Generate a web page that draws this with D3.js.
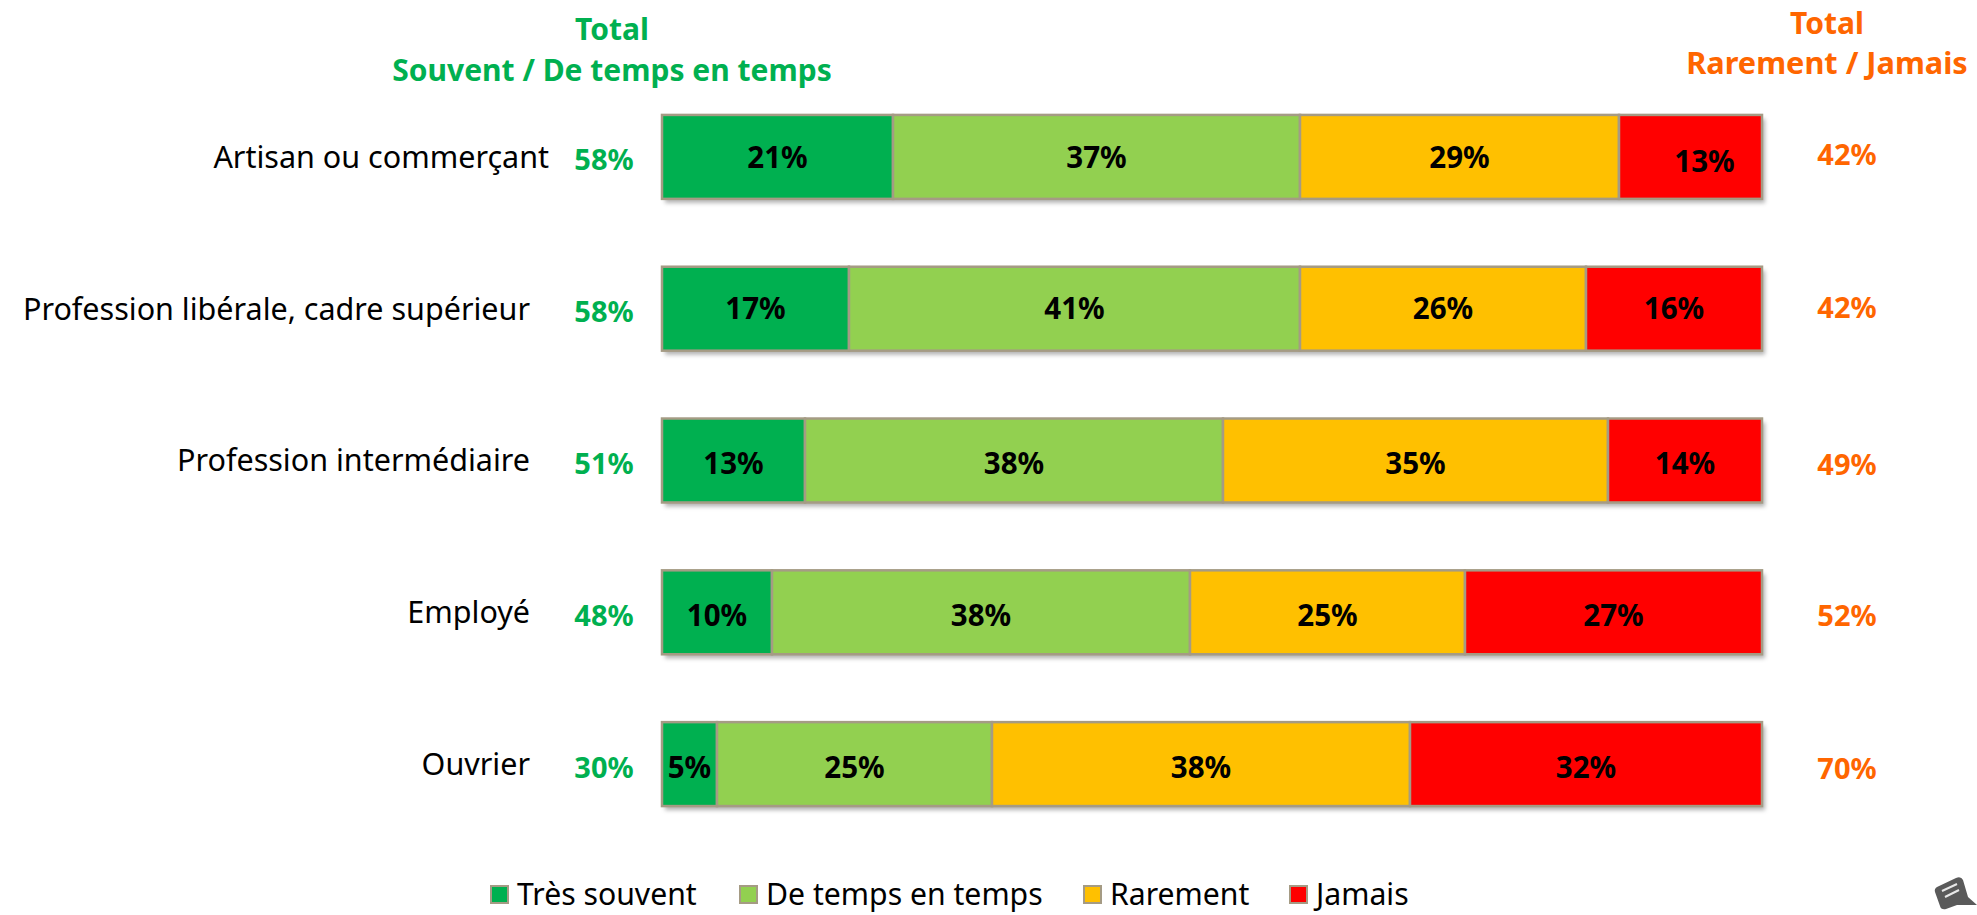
<!DOCTYPE html>
<html>
<head>
<meta charset="utf-8">
<script src="https://cdn.jsdelivr.net/npm/d3@7"></script>
<style>
  html, body { margin: 0; padding: 0; background: #fff; overflow: hidden; }
  text { font-family: "Noto Sans", "Open Sans", sans-serif; }
</style>
</head>
<body>
<svg id="chart"></svg>
<script>
const categories = ["Artisan ou commerçant", "Profession libérale, cadre supérieur", "Profession intermédiaire", "Employé", "Ouvrier"];
const seriesNames = ["Très souvent", "De temps en temps", "Rarement", "Jamais"];
const tresSouvent = [21, 17, 13, 10, 5];
const deTempsEnTemps = [37, 41, 38, 38, 25];
const rarement = [29, 26, 35, 25, 38];
const jamais = [13, 16, 14, 27, 32];
const totalSouvent = [58, 58, 51, 48, 30];
const totalRarement = [42, 42, 49, 52, 70];
const colors = ["#00b050", "#92d050", "#ffc000", "#ff0000"];

const width = 1977;
const height = 915;
const green = "#00b050";
const orange = "#ff6600";
const edge = "#a59b84";

const svg = d3.select("#chart").attr("width", width).attr("height", height);

const defs = svg.append("defs");
const shadow = defs.append("filter").attr("id", "shadow")
  .attr("x", "-2%").attr("y", "-10%").attr("width", "104%").attr("height", "130%");
shadow.append("feDropShadow")
  .attr("dx", 3).attr("dy", 4).attr("stdDeviation", 2)
  .attr("flood-color", "#000").attr("flood-opacity", 0.3);

const x = d3.scaleLinear().domain([0, 100]).range([662, 1762]);
const y = d3.scaleBand().domain(categories).range([81, 840]).paddingInner(0.447).paddingOuter(0.2235);

// the labels in the original slide are not quite lined up, so nudge them per row
const valueShift = [0, 0, 3, 3, 3];
const rightShift = [-2, -1, 4, 3, 4];

const rows = categories.map((c, i) => ({
  i,
  cat: c,
  vals: [tresSouvent[i], deTempsEnTemps[i], rarement[i], jamais[i]],
  left: totalSouvent[i],
  right: totalRarement[i]
}));

// bars
const row = svg.append("g").selectAll("g")
  .data(rows)
  .enter()
  .append("g")
  .attr("transform", d => `translate(0,${y(d.cat)})`);

row.append("rect")
  .attr("x", x(0))
  .attr("width", x(100) - x(0))
  .attr("height", y.bandwidth())
  .attr("fill", "#fff")
  .attr("filter", "url(#shadow)");

const segs = d => {
  let sum = 0;
  return d.vals.map((v, j) => {
    const s = { v, j, row: d.i, x0: sum, x1: sum + v };
    sum += v;
    return s;
  });
};

row.selectAll("rect.seg")
  .data(segs)
  .enter()
  .append("rect")
  .attr("class", "seg")
  .attr("x", d => x(d.x0))
  .attr("y", 0)
  .attr("width", d => x(d.x1) - x(d.x0))
  .attr("height", y.bandwidth())
  .attr("fill", d => colors[d.j])
  .attr("stroke", edge)
  .attr("stroke-width", 2.5);

// the 13% in the first row sits off centre
const isOffset = d => d.row === 0 && d.j === 3;

row.selectAll("text.val")
  .data(segs)
  .enter()
  .append("text")
  .attr("class", "val")
  .attr("x", d => (x(d.x0) + x(d.x1)) / 2 + (isOffset(d) ? 14 : 0))
  .attr("y", d => y.bandwidth() / 2 + valueShift[d.row] + (isOffset(d) ? 4 : 0))
  .attr("dy", "0.36em")
  .attr("text-anchor", "middle")
  .attr("font-size", 29.5)
  .attr("font-weight", "bold")
  .attr("fill", "#000")
  .text(d => d.v + "%");

// category labels
row.append("text")
  .attr("x", d => d.i === 0 ? 549 : 530)
  .attr("y", y.bandwidth() / 2)
  .attr("dy", "0.36em")
  .attr("text-anchor", "end")
  .attr("font-size", 30.5)
  .attr("fill", "#000")
  .text(d => d.cat);

// totals
row.append("text")
  .attr("x", 604)
  .attr("y", y.bandwidth() / 2 + 3)
  .attr("dy", "0.36em")
  .attr("text-anchor", "middle")
  .attr("font-size", 29)
  .attr("font-weight", "bold")
  .attr("fill", green)
  .text(d => d.left + "%");

row.append("text")
  .attr("x", 1847)
  .attr("y", d => y.bandwidth() / 2 + rightShift[d.i])
  .attr("dy", "0.36em")
  .attr("text-anchor", "middle")
  .attr("font-size", 29)
  .attr("font-weight", "bold")
  .attr("fill", orange)
  .text(d => d.right + "%");

// column headers
const head = svg.append("g")
  .attr("font-size", 30)
  .attr("font-weight", "bold")
  .attr("text-anchor", "middle");
head.append("text").attr("x", 612).attr("y", 40).attr("fill", green).text("Total");
head.append("text").attr("x", 612).attr("y", 81).attr("fill", green).text("Souvent / De temps en temps");
head.append("text").attr("x", 1827).attr("y", 34).attr("fill", orange).text("Total");
head.append("text").attr("x", 1827).attr("y", 74).attr("font-size", 30.7).attr("fill", orange).text("Rarement / Jamais");

// legend
const legendX = [491, 740, 1084, 1290];
const legend = svg.append("g").selectAll("g")
  .data(seriesNames)
  .enter()
  .append("g")
  .attr("transform", (d, i) => `translate(${legendX[i]},886)`);
legend.append("rect")
  .attr("width", 17).attr("height", 17)
  .attr("fill", (d, i) => colors[i])
  .attr("stroke", edge)
  .attr("stroke-width", 2);
legend.append("text")
  .attr("x", 26).attr("y", 8.5)
  .attr("dy", "0.36em")
  .attr("font-size", 30.2)
  .text(d => d);

// speech bubble mark in the corner
const mark = svg.append("g");
mark.append("path")
  .attr("d", "M1937 887 L1956 878 Q1961 876 1963 880 L1968 897 L1977 905 L1957 905 L1946 909 Q1941 910 1940 906 L1935 892 Q1934 889 1937 887 Z")
  .attr("fill", "#5a5a5a");
mark.append("path")
  .attr("d", "M1942 891 L1957 884 M1945 897 L1959 890")
  .attr("stroke", "#e8e8e8")
  .attr("stroke-width", 2)
  .attr("fill", "none");
</script>
</body>
</html>
